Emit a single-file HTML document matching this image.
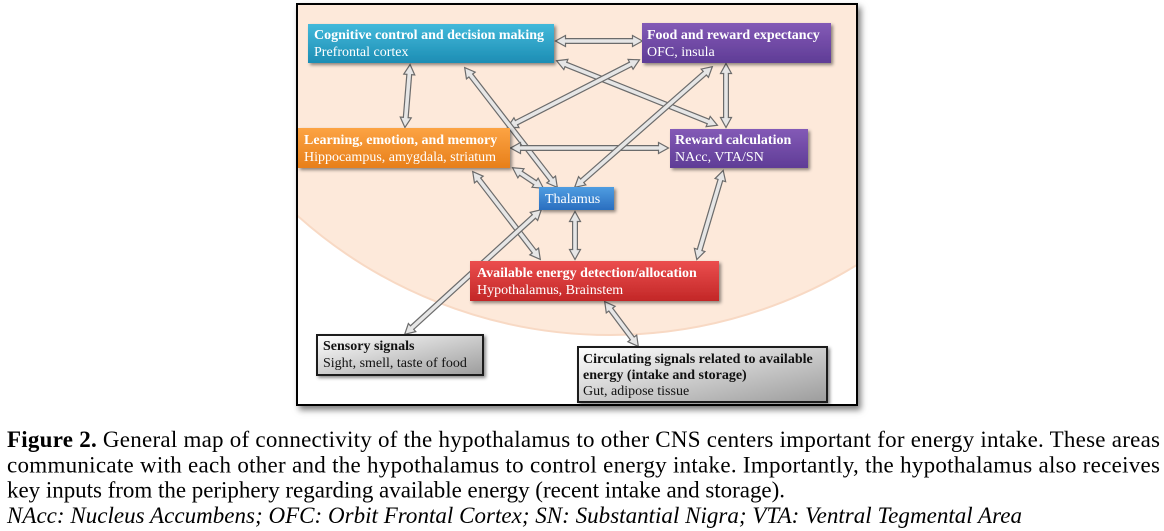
<!DOCTYPE html>
<html>
<head>
<meta charset="utf-8">
<style>
  html,body{margin:0;padding:0;background:#fff;}
  body{width:1164px;height:531px;position:relative;overflow:hidden;}
  #frame{position:absolute;left:296px;top:3px;width:562px;height:403px;box-sizing:border-box;border:2px solid #000;background:#fff;box-shadow:3px 4px 6px rgba(0,0,0,0.5);}
  svg{position:absolute;left:0;top:0;}
  .o{stroke:#6b6b6b;stroke-width:6;fill:none;}
  .i{stroke:#e6e6e6;stroke-width:3.6;fill:none;marker-start:url(#ah);marker-end:url(#ah);}
  .t{font-family:"Liberation Serif",serif;font-size:14px;fill:#fff;}
  .b{font-weight:bold;}
  .k{fill:#111;}
  .cap{font-family:"Liberation Serif",serif;font-size:23px;fill:#000;}
</style>
</head>
<body>
<div id="frame"></div>
<svg width="1164" height="531" viewBox="0 0 1164 531" xmlns="http://www.w3.org/2000/svg">
  <defs>
    <clipPath id="fc"><rect x="298" y="5" width="558" height="399"/></clipPath>
    <linearGradient id="gC" x1="0" y1="0" x2="0" y2="1"><stop offset="0" stop-color="#42b9da"/><stop offset="1" stop-color="#1d8db4"/></linearGradient>
    <linearGradient id="gP" x1="0" y1="0" x2="0" y2="1"><stop offset="0" stop-color="#835ab6"/><stop offset="1" stop-color="#5f3c96"/></linearGradient>
    <linearGradient id="gO" x1="0" y1="0" x2="0" y2="1"><stop offset="0" stop-color="#fca343"/><stop offset="1" stop-color="#e77f1a"/></linearGradient>
    <linearGradient id="gB" x1="0" y1="0" x2="0" y2="1"><stop offset="0" stop-color="#4f9de1"/><stop offset="1" stop-color="#2a6ebf"/></linearGradient>
    <linearGradient id="gR" x1="0" y1="0" x2="0" y2="1"><stop offset="0" stop-color="#eb4e4e"/><stop offset="1" stop-color="#c22727"/></linearGradient>
    <linearGradient id="gG" x1="0" y1="0" x2="1" y2="1"><stop offset="0" stop-color="#ffffff"/><stop offset="1" stop-color="#9c9c9c"/></linearGradient>
    <filter id="sh" x="-10%" y="-20%" width="130%" height="160%">
      <feDropShadow dx="2" dy="2" stdDeviation="1.5" flood-color="#000" flood-opacity="0.45"/>
    </filter>
    <marker id="ah" markerUnits="userSpaceOnUse" orient="auto-start-reverse" refX="0.5" refY="0" markerWidth="12" markerHeight="12" overflow="visible">
      <path d="M0,-1.8 L0,-5.5 L10,0 L0,5.5 L0,1.8" fill="#e6e6e6" stroke="#6b6b6b" stroke-width="1.2"/>
    </marker>
  </defs>

  <!-- peach circle -->
  <g clip-path="url(#fc)">
    <circle cx="610" cy="-134" r="469" fill="#fde9da" stroke="#f8d9c4" stroke-width="2"/>
  </g>

  <!-- arrows -->
  <line class="o" x1="565" y1="41" x2="633" y2="41"/><line class="i" x1="565" y1="41" x2="633" y2="41"/>
  <line class="o" x1="565.4" y1="64.3" x2="708.6" y2="121.7"/><line class="i" x1="565.4" y1="64.3" x2="708.6" y2="121.7"/>
  <line class="o" x1="516" y1="122.9" x2="631" y2="64.1"/><line class="i" x1="516" y1="122.9" x2="631" y2="64.1"/>
  <line class="o" x1="470.5" y1="75.1" x2="551.5" y2="179.9"/><line class="i" x1="470.5" y1="75.1" x2="551.5" y2="179.9"/>
  <line class="o" x1="520" y1="148" x2="659" y2="148"/><line class="i" x1="520" y1="148" x2="659" y2="148"/>
  <line class="o" x1="581.8" y1="181.1" x2="705.2" y2="72.9"/><line class="i" x1="581.8" y1="181.1" x2="705.2" y2="72.9"/>
  <line class="o" x1="520.5" y1="173" x2="535.5" y2="183"/><line class="i" x1="520.5" y1="173" x2="535.5" y2="183"/>
  <line class="o" x1="478.5" y1="179.1" x2="534.5" y2="251.9"/><line class="i" x1="478.5" y1="179.1" x2="534.5" y2="251.9"/>
  <line class="o" x1="575" y1="221" x2="575" y2="250"/><line class="i" x1="575" y1="221" x2="575" y2="250"/>
  <line class="o" x1="409.3" y1="74" x2="405.7" y2="118"/><line class="i" x1="409.3" y1="74" x2="405.7" y2="118"/>
  <line class="o" x1="726" y1="73" x2="726" y2="118"/><line class="i" x1="726" y1="73" x2="726" y2="118"/>
  <line class="o" x1="720.5" y1="179.6" x2="699.5" y2="250.4"/><line class="i" x1="720.5" y1="179.6" x2="699.5" y2="250.4"/>
  <line class="o" x1="411.7" y1="327.9" x2="534.3" y2="216.1"/><line class="i" x1="411.7" y1="327.9" x2="534.3" y2="216.1"/>
  <line class="o" x1="610.4" y1="309.2" x2="632.6" y2="338.8"/><line class="i" x1="610.4" y1="309.2" x2="632.6" y2="338.8"/>

  <!-- boxes -->
  <rect x="308" y="24" width="246" height="39" fill="url(#gC)" filter="url(#sh)"/>
  <text class="t b" x="314" y="39">Cognitive control and decision making</text>
  <text class="t" x="314" y="56">Prefrontal cortex</text>

  <rect x="642" y="23" width="189" height="40" fill="url(#gP)" filter="url(#sh)"/>
  <text class="t b" x="647" y="39">Food and reward expectancy</text>
  <text class="t" x="647" y="56">OFC, insula</text>

  <rect x="298" y="128" width="212" height="40" fill="url(#gO)" filter="url(#sh)"/>
  <text class="t b" x="304" y="144">Learning, emotion, and memory</text>
  <text class="t" x="304" y="161">Hippocampus, amygdala, striatum</text>

  <rect x="670" y="129" width="138" height="39" fill="url(#gP)" filter="url(#sh)"/>
  <text class="t b" x="675" y="144">Reward calculation</text>
  <text class="t" x="675" y="161">NAcc, VTA/SN</text>

  <rect x="539" y="187" width="75" height="23" fill="url(#gB)" filter="url(#sh)"/>
  <text class="t" x="545" y="203">Thalamus</text>

  <rect x="470" y="261" width="249" height="40" fill="url(#gR)" filter="url(#sh)"/>
  <text class="t b" x="477" y="277">Available energy detection/allocation</text>
  <text class="t" x="477" y="294">Hypothalamus, Brainstem</text>

  <rect x="317" y="335" width="166" height="40" fill="url(#gG)" stroke="#1a1a1a" stroke-width="2" filter="url(#sh)"/>
  <text class="t b k" x="323" y="350">Sensory signals</text>
  <text class="t k" x="323" y="367">Sight, smell, taste of food</text>

  <rect x="578" y="347" width="249" height="55" fill="url(#gG)" stroke="#1a1a1a" stroke-width="2" filter="url(#sh)"/>
  <text class="t b k" x="583" y="363">Circulating signals related to available</text>
  <text class="t b k" x="583" y="379">energy (intake and storage)</text>
  <text class="t k" x="583" y="395">Gut, adipose tissue</text>

  <!-- caption -->
  <text class="cap" x="7" y="447" textLength="1153" lengthAdjust="spacing"><tspan font-weight="bold">Figure 2.</tspan> General map of connectivity of the hypothalamus to other CNS centers important for energy intake. These areas</text>
  <text class="cap" x="7" y="472.5" textLength="1153" lengthAdjust="spacing">communicate with each other and the hypothalamus to control energy intake. Importantly, the hypothalamus also receives</text>
  <text class="cap" x="7" y="497.5" textLength="778" lengthAdjust="spacing">key inputs from the periphery regarding available energy (recent intake and storage).</text>
  <text class="cap" x="7" y="523" font-style="italic" textLength="1015" lengthAdjust="spacing">NAcc: Nucleus Accumbens; OFC: Orbit Frontal Cortex; SN: Substantial Nigra; VTA: Ventral Tegmental Area</text>
</svg>
</body>
</html>
